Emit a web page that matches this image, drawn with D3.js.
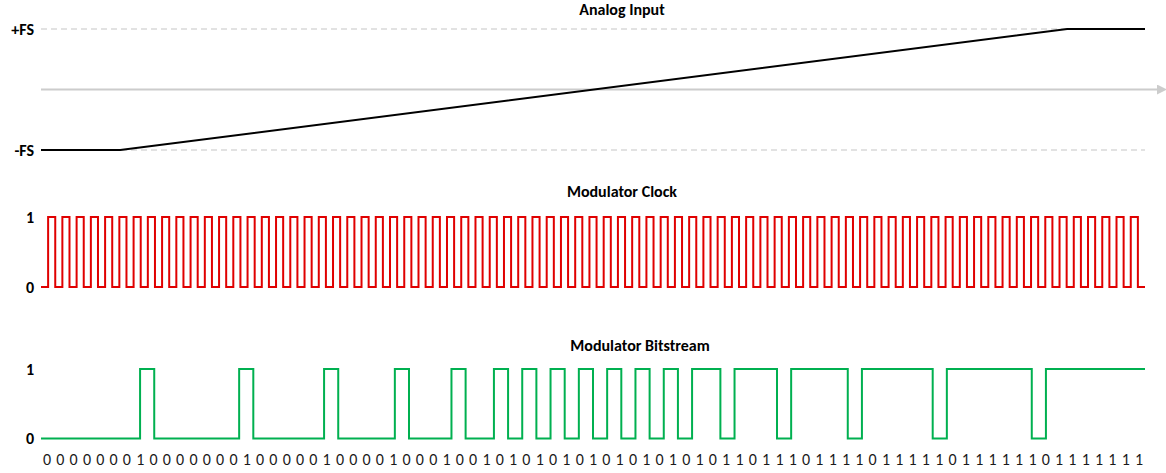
<!DOCTYPE html>
<html>
<head>
<meta charset="utf-8">
<script src="https://cdn.jsdelivr.net/npm/d3@7"></script>
<style>
  body { margin: 0; background: #fff; }
  svg text { font-family: Carlito, Lato, "Open Sans", sans-serif; }
</style>
</head>
<body>
<div id="chart"></div>
<script>
// ---- data ----
var titles = ["Analog Input", "Modulator Clock", "Modulator Bitstream"];

// analog ramp, time in bit periods, value in full scale units
var analogT = [0, 5.6, 72.5, 78],
    analogV = [-1, -1, 1, 1];
var analogTicks = [-1, 1],
    analogTickLabels = ["-FS", "+FS"];

// clock, one entry per half period
var clockLevels = ("0" +
  "1010101010 1010101010 1010101010 1010101010 1010101010" +
  "1010101010 1010101010 1010101010 1010101010 1010101010" +
  "1010101010 1010101010 1010101010 1010101010 1010101010" +
  "1010").replace(/ /g, "").split("").map(Number);

// modulator output, one entry per bit period
var bitstream = ("0000000 1 000000 1 00000 1 0000 1 000 1 00 1 010101010101 " +
  "0 11 0 111 0 1111 0 11111 0 111111 0 1111111").replace(/ /g, "").split("").map(Number);

// the digits printed under the bitstream
var bitLabels = ("0000000 1 0000000 1 00000 1 0000 1 000 1 00 10101010101010101 " +
  "0 11 0 111 0 1111 0 11111 0 111111 0 1111111").replace(/ /g, "").split("");

var levelTicks = [0, 1];

// ---- layout ----
var svg_dx = 1166, svg_dy = 473,
    x0 = 41, x1 = 1145;

var svg = d3.select("#chart")
            .append("svg")
            .attr("width", svg_dx)
            .attr("height", svg_dy);

var x = d3.scaleLinear().domain([0, bitstream.length]).range([x0, x1]);
var xClock = d3.scaleLinear().domain([0, clockLevels.length]).range([x0, x1]);
var xLabel = d3.scalePoint().domain(d3.range(bitLabels.length)).range([47, 1139]);

var yAnalog = d3.scaleLinear().domain([-1, 1]).range([150, 29]);
var yClock = d3.scaleLinear().domain([0, 1]).range([287, 217]);
var yBits = d3.scaleLinear().domain([0, 1]).range([438.5, 369]);

function stepPoints(levels) {
  var pts = levels.map(function(v, i) { return [i, v]; });
  pts.push([levels.length, levels[levels.length - 1]]);
  return pts;
}

function styleLabels(g) {
  g.select(".domain").remove();
  g.selectAll(".tick line").remove();
  g.selectAll(".tick text")
   .style("font-size", "16px")
   .style("font-weight", "bold")
   .attr("fill", "#000");
}

// ---- analog input panel ----
svg.append("g")
   .selectAll("line")
   .data(analogTicks)
   .enter()
   .append("line")
   .attr("x1", x0)
   .attr("x2", x1)
   .attr("y1", d => yAnalog(d))
   .attr("y2", d => yAnalog(d))
   .attr("stroke", "#d9d9d9")
   .attr("stroke-width", 1.5)
   .attr("stroke-dasharray", "6,4");

// time axis with arrow
svg.append("defs").append("marker")
   .attr("id", "arrow")
   .attr("viewBox", "0 0 10 10")
   .attr("refX", 0)
   .attr("refY", 5)
   .attr("markerWidth", 5)
   .attr("markerHeight", 5)
   .attr("markerUnits", "strokeWidth")
   .attr("orient", "auto")
   .append("path")
   .attr("d", "M0,0L10,5L0,10z")
   .attr("fill", "#cccccc");

svg.append("line")
   .attr("x1", x0)
   .attr("x2", 1157)
   .attr("y1", yAnalog(0))
   .attr("y2", yAnalog(0))
   .attr("stroke", "#cccccc")
   .attr("stroke-width", 2)
   .attr("marker-end", "url(#arrow)");

svg.append("g")
   .attr("transform", "translate(" + x0 + ",0)")
   .call(d3.axisLeft(yAnalog).tickValues(analogTicks).tickSize(0).tickPadding(7)
           .tickFormat((d, i) => analogTickLabels[i]))
   .call(styleLabels);

svg.append("path")
   .datum(analogT.map((t, i) => [t, analogV[i]]))
   .attr("fill", "none")
   .attr("stroke", "#000")
   .attr("stroke-width", 2)
   .attr("d", d3.line().x(d => x(d[0])).y(d => yAnalog(d[1])));

// ---- modulator clock ----
svg.append("path")
   .datum(stepPoints(clockLevels))
   .attr("fill", "none")
   .attr("stroke", "#e00000")
   .attr("stroke-width", 2)
   .attr("d", d3.line().curve(d3.curveStepAfter).x(d => xClock(d[0])).y(d => yClock(d[1])));

svg.append("g")
   .attr("transform", "translate(" + x0 + ",0)")
   .call(d3.axisLeft(yClock).tickValues(levelTicks).tickSize(0).tickPadding(7).tickFormat(d3.format("d")))
   .call(styleLabels);

// ---- modulator bitstream ----
svg.append("path")
   .datum(stepPoints(bitstream))
   .attr("fill", "none")
   .attr("stroke", "#00b050")
   .attr("stroke-width", 2)
   .attr("d", d3.line().curve(d3.curveStepAfter).x(d => x(d[0])).y(d => yBits(d[1])));

svg.append("g")
   .attr("transform", "translate(" + x0 + ",0)")
   .call(d3.axisLeft(yBits).tickValues(levelTicks).tickSize(0).tickPadding(7).tickFormat(d3.format("d")))
   .call(styleLabels);

svg.append("g")
   .selectAll("text")
   .data(bitLabels)
   .enter()
   .append("text")
   .attr("x", (d, i) => xLabel(i))
   .attr("y", 465)
   .attr("text-anchor", "middle")
   .style("font-size", "16px")
   .attr("fill", "#1a1a1a")
   .text(d => d);

// ---- panel titles ----
var titleX = [622, 622, 640],
    titleY = [15, 197, 351];
svg.append("g")
   .selectAll("text")
   .data(titles)
   .enter()
   .append("text")
   .attr("x", (d, i) => titleX[i])
   .attr("y", (d, i) => titleY[i])
   .attr("text-anchor", "middle")
   .style("font-size", "16px")
   .style("font-weight", "bold")
   .attr("fill", "#000")
   .text(d => d);
</script>
</body>
</html>
